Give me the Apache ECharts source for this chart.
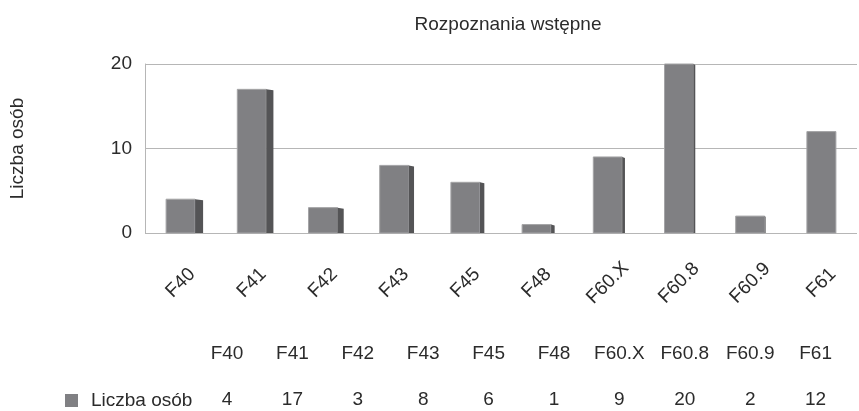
<!DOCTYPE html>
<html>
<head>
<meta charset="utf-8">
<script src="https://cdn.jsdelivr.net/npm/echarts@6/dist/echarts.min.js"></script>
<style>
html,body{margin:0;padding:0;background:#fff;}
#chart{width:859px;height:411px;}
</style>
</head>
<body>
<div id="chart"></div>
<script>
// ---- data ----
const title = 'Rozpoznania wstępne';
const seriesName = 'Liczba osób';
const categories = ['F40', 'F41', 'F42', 'F43', 'F45', 'F48', 'F60.X', 'F60.8', 'F60.9', 'F61'];
const values = [4, 17, 3, 8, 6, 1, 9, 20, 2, 12];
const yTicks = [0, 10, 20];

// ---- layout / style ----
const FONT = "'Liberation Sans', Arial, sans-serif";
const FS = 19;
const TXT = '#2b2b2b';
const FRONT = '#808083';
const SIDE = '#545456';
const GRIDC = '#b6b6b6';
const tableX0 = 227, tableStep = 65.4, headerY = 354, valueY = 400;

const chart = echarts.init(document.getElementById('chart'), null, {renderer: 'canvas'});

const tableGraphics = [];
categories.forEach((c, i) => {
  tableGraphics.push({
    type: 'text', x: tableX0 + i * tableStep, y: headerY,
    style: {text: c, font: FS + 'px ' + FONT, fill: TXT, textAlign: 'center', textVerticalAlign: 'middle'}
  });
  tableGraphics.push({
    type: 'text', x: tableX0 + i * tableStep, y: valueY,
    style: {text: String(values[i]), font: FS + 'px ' + FONT, fill: TXT, textAlign: 'center', textVerticalAlign: 'middle'}
  });
});

const option = {
  animation: false,
  backgroundColor: '#fff',
  textStyle: {fontFamily: FONT},
  title: {
    text: title, left: 503, top: 10, textAlign: 'center',
    textStyle: {fontFamily: FONT, fontSize: FS, fontWeight: 'normal', color: TXT}
  },
  legend: {
    data: [seriesName], left: 60, top: 386, itemWidth: 13, itemHeight: 13, icon: 'rect',
    textStyle: {fontFamily: FONT, fontSize: FS, color: TXT, padding: [0, 0, 0, 8]}
  },
  grid: {left: 144, right: 2, top: 64, bottom: 178, containLabel: false},
  xAxis: {
    type: 'category', data: categories,
    axisLine: {show: false}, axisTick: {show: false},
    axisLabel: {rotate: 45, align: 'center', verticalAlign: 'middle', margin: 50,
      fontFamily: FONT, fontSize: FS, color: TXT, interval: 0}
  },
  yAxis: {
    type: 'value', min: yTicks[0], max: yTicks[yTicks.length - 1], interval: yTicks[1] - yTicks[0],
    name: seriesName, nameLocation: 'middle', nameGap: 118, nameRotate: 90,
    nameTextStyle: {fontFamily: FONT, fontSize: FS, color: TXT},
    axisLine: {show: true, lineStyle: {color: GRIDC}},
    axisTick: {show: false},
    axisLabel: {margin: 13, fontFamily: FONT, fontSize: FS, color: TXT},
    splitLine: {show: true, lineStyle: {color: GRIDC, width: 1}}
  },
  graphic: tableGraphics,
  series: [{
    type: 'custom', name: seriesName,
    itemStyle: {color: FRONT},
    encode: {x: 0, y: 1},
    data: categories.map((c, i) => [i, values[i]]),
    renderItem: function (params, api) {
      const idx = params.dataIndex;
      const n = categories.length;
      const top = api.coord([api.value(0), api.value(1)]);
      const base = api.coord([api.value(0), 0]);
      const fw = 29;
      const side = 8 * (1 - idx / (n - 1));
      const xl = top[0] - fw / 2, xr = top[0] + fw / 2;
      return {
        type: 'group',
        children: [
          {type: 'rect', shape: {x: xl, y: top[1], width: fw, height: base[1] - top[1]},
            style: {fill: FRONT, stroke: '#a4a4a6', lineWidth: 1}},
          {type: 'polygon', shape: {points: [[xr, top[1]], [xr + side, top[1] + 1], [xr + side, base[1]], [xr, base[1]]]},
            style: {fill: SIDE}}
        ]
      };
    }
  }]
};
chart.setOption(option);
</script>
</body>
</html>
